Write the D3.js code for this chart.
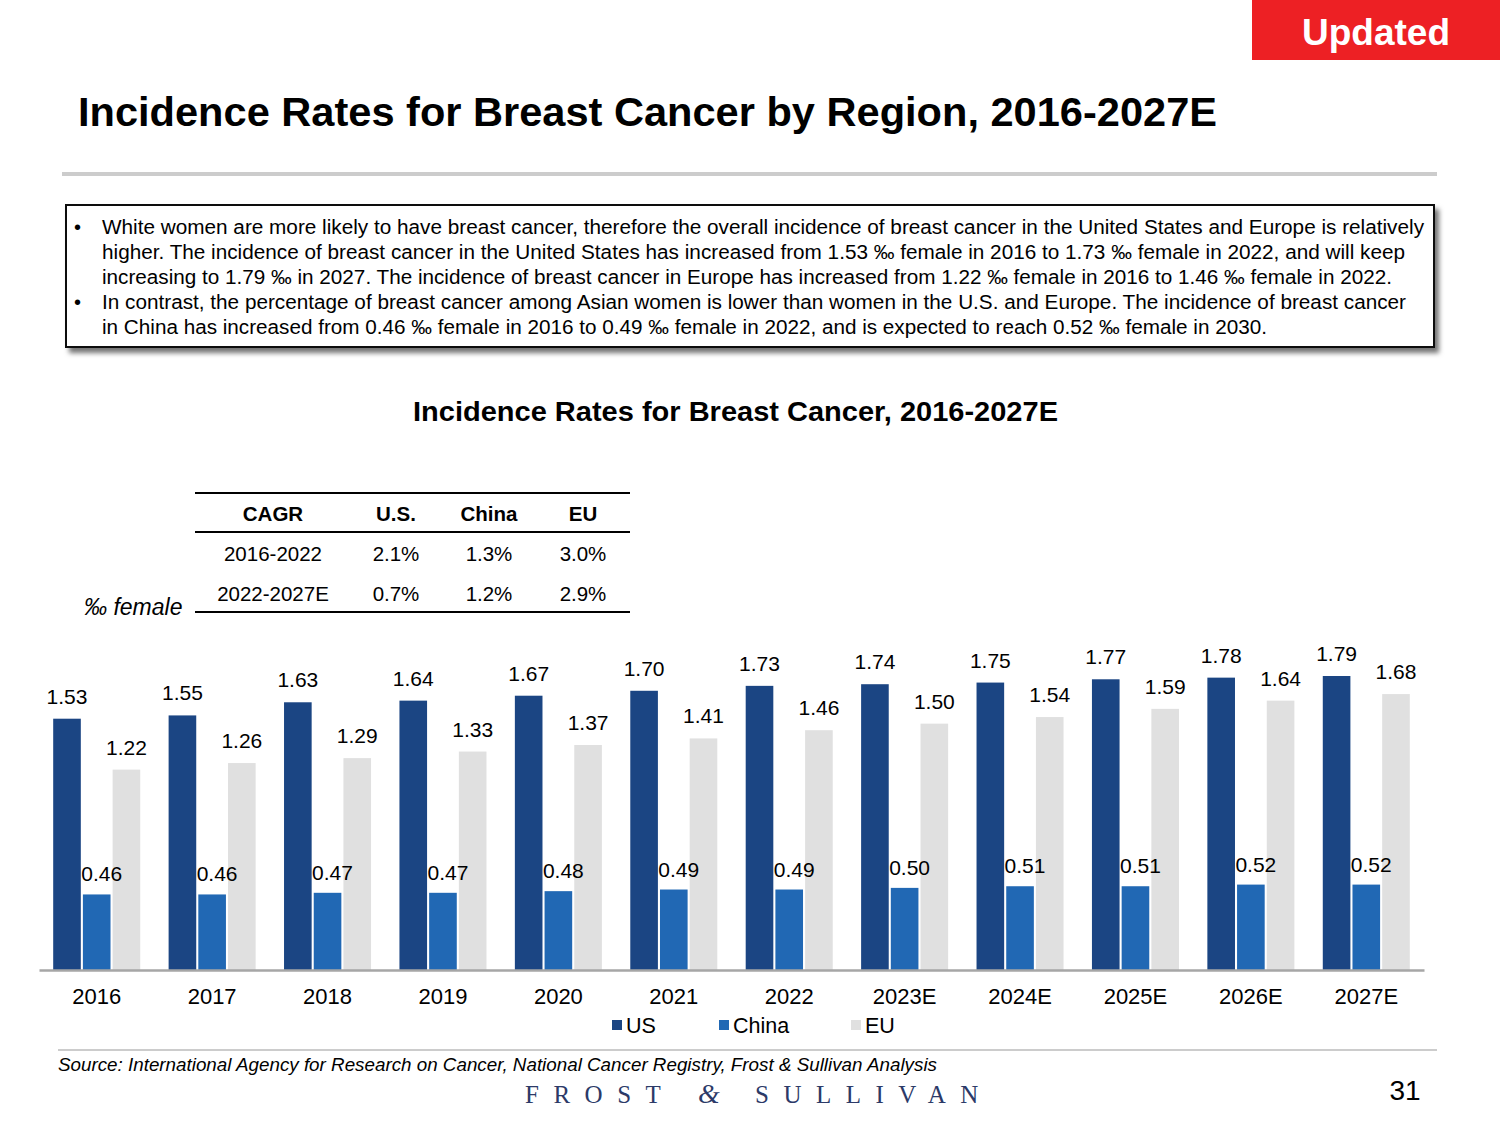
<!DOCTYPE html>
<html>
<head>
<meta charset="utf-8">
<script src="https://d3js.org/d3.v7.min.js"></script>
<style>
  body { margin: 0; background: #fff; }
  svg { display: block; font-family: "Liberation Sans", Arial, sans-serif; }
</style>
</head>
<body>
<div id="chart"></div>
<script>
// Values
var years = ["2016", "2017", "2018", "2019", "2020", "2021", "2022", "2023E", "2024E", "2025E", "2026E", "2027E"];
var seriesNames = ["US", "China", "EU"];
var usRates = [1.53, 1.55, 1.63, 1.64, 1.67, 1.70, 1.73, 1.74, 1.75, 1.77, 1.78, 1.79];
var chinaRates = [0.46, 0.46, 0.47, 0.47, 0.48, 0.49, 0.49, 0.50, 0.51, 0.51, 0.52, 0.52];
var euRates = [1.22, 1.26, 1.29, 1.33, 1.37, 1.41, 1.46, 1.50, 1.54, 1.59, 1.64, 1.68];

var cagrHeader = ["CAGR", "U.S.", "China", "EU"];
var cagrRows = [
    ["2016-2022", "2.1%", "1.3%", "3.0%"],
    ["2022-2027E", "0.7%", "1.2%", "2.9%"]
];

var bulletLines = [
    ["\u2022", "White women are more likely to have breast cancer, therefore the overall incidence of breast cancer in the United States and Europe is relatively"],
    ["", "higher. The incidence of breast cancer in the United States has increased from 1.53 \u2030 female in 2016 to 1.73 \u2030 female in 2022, and will keep"],
    ["", "increasing to 1.79 \u2030 in 2027. The incidence of breast cancer in Europe has increased from 1.22 \u2030 female in 2016 to 1.46 \u2030 female in 2022."],
    ["\u2022", "In contrast, the percentage of breast cancer among Asian women is lower than women in the U.S. and Europe. The incidence of breast cancer"],
    ["", "in China has increased from 0.46 \u2030 female in 2016 to 0.49 \u2030 female in 2022, and is expected to reach 0.52 \u2030 female in 2030."]
];
var bulletWidths = [1322, 1303, 1290, 1304, 1165];

var W = 1500, H = 1125;
var colors = { US: "#1b4583", China: "#2168b4", EU: "#e0e0e0" };

var svg = d3.select("#chart").append("svg").attr("width", W).attr("height", H);

var defs = svg.append("defs");
var shadow = defs.append("filter").attr("id", "boxShadow")
    .attr("x", "-5%").attr("y", "-20%").attr("width", "110%").attr("height", "150%");
shadow.append("feDropShadow").attr("dx", 4).attr("dy", 5).attr("stdDeviation", 2.5)
    .attr("flood-color", "#000").attr("flood-opacity", 0.55);

// "Updated" tag in the corner
svg.append("rect").attr("x", 1252).attr("y", 0).attr("width", 248).attr("height", 60).attr("fill", "#ed2024");
svg.append("text").attr("x", 1376).attr("y", 45).attr("text-anchor", "middle")
    .attr("font-size", 37).attr("font-weight", "bold").attr("fill", "#fff").text("Updated");

// Slide title + rule
svg.append("text").attr("x", 78).attr("y", 126)
    .attr("font-size", 41).attr("font-weight", "bold").attr("fill", "#000")
    .attr("textLength", 1139).attr("lengthAdjust", "spacingAndGlyphs")
    .text("Incidence Rates for Breast Cancer by Region, 2016-2027E");
svg.append("rect").attr("x", 62).attr("y", 172).attr("width", 1375).attr("height", 4).attr("fill", "#cccccc");

// Commentary box
svg.append("rect").attr("x", 66).attr("y", 205).attr("width", 1368).attr("height", 142)
    .attr("fill", "#fff").attr("stroke", "#111").attr("stroke-width", 2)
    .attr("filter", "url(#boxShadow)");
var bullets = svg.append("g").attr("font-size", 20).attr("fill", "#000");
bulletLines.forEach(function(l, i) {
    var yy = 234 + i * 25;
    if (l[0]) bullets.append("text").attr("x", 74).attr("y", yy).text(l[0]);
    bullets.append("text").attr("x", 102).attr("y", yy)
        .attr("textLength", bulletWidths[i]).attr("lengthAdjust", "spacingAndGlyphs")
        .text(l[1]);
});

// Chart title
svg.append("text").attr("x", 413).attr("y", 421)
    .attr("font-size", 27).attr("font-weight", "bold").attr("fill", "#000")
    .attr("textLength", 645).attr("lengthAdjust", "spacingAndGlyphs")
    .text("Incidence Rates for Breast Cancer, 2016-2027E");

// CAGR table
var colX = [273, 396, 489, 583];
var table = svg.append("g").attr("font-size", 20.5).attr("fill", "#000").attr("text-anchor", "middle");
[493, 532, 612].forEach(function(ly) {
    table.append("line").attr("x1", 195).attr("x2", 630).attr("y1", ly).attr("y2", ly)
        .attr("stroke", "#000").attr("stroke-width", 2);
});
table.selectAll(".hdr").data(cagrHeader).join("text").attr("class", "hdr")
    .attr("x", function(d, i) { return colX[i]; }).attr("y", 521)
    .attr("font-weight", "bold").text(function(d) { return d; });
cagrRows.forEach(function(row, r) {
    table.selectAll(".row" + r).data(row).join("text").attr("class", "row" + r)
        .attr("x", function(d, i) { return colX[i]; }).attr("y", 561 + r * 40)
        .text(function(d) { return d; });
});
svg.append("text").attr("x", 84).attr("y", 615).attr("font-size", 23).attr("font-style", "italic")
    .attr("fill", "#000").text("\u2030 female");

// Bars
var baseY = 970;
var x0 = d3.scaleBand().domain(years).range([39, 1424]).paddingInner(0.246).paddingOuter(0.123);
var x1 = d3.scaleBand().domain(seriesNames).range([0, x0.bandwidth()]).paddingInner(0.07);
var y = d3.scaleLinear().domain([0, 1.79]).range([baseY, 676]);

var rows = years.map(function(yr, i) {
    return { year: yr, values: [
        { key: "US", value: usRates[i] },
        { key: "China", value: chinaRates[i] },
        { key: "EU", value: euRates[i] }
    ] };
});

var groups = svg.append("g").selectAll(".grp").data(rows).join("g").attr("class", "grp")
    .attr("transform", function(d) { return "translate(" + x0(d.year) + ",0)"; });

groups.selectAll("rect").data(function(d) { return d.values; }).join("rect")
    .attr("x", function(d) { return x1(d.key); })
    .attr("y", function(d) { return y(d.value); })
    .attr("width", x1.bandwidth())
    .attr("height", function(d) { return baseY - y(d.value); })
    .attr("fill", function(d) { return colors[d.key]; });

// China labels sit a little right of their bar in the original
groups.selectAll("text").data(function(d) { return d.values; }).join("text")
    .attr("x", function(d) { return x1(d.key) + x1.bandwidth() / 2 + (d.key == "China" ? 5 : 0); })
    .attr("y", function(d) { return y(d.value) - (d.key == "China" ? 13 : 15); })
    .attr("text-anchor", "middle").attr("font-size", 21).attr("fill", "#000")
    .text(function(d) { return d.value.toFixed(2); });

// X axis
var xAxis = svg.append("g").attr("transform", "translate(0," + baseY + ")")
    .call(d3.axisBottom(x0).tickSize(0).tickPadding(18));
xAxis.select(".domain").attr("stroke", "#a6a6a6").attr("stroke-width", 2.5);
xAxis.selectAll("text").attr("font-size", 22).attr("fill", "#000")
    .attr("font-family", "\"Liberation Sans\", Arial, sans-serif");

// Legend
var legendX = [612, 719, 851];
var legend = svg.append("g").selectAll("g").data(seriesNames).join("g")
    .attr("transform", function(d, i) { return "translate(" + legendX[i] + ",1020)"; });
legend.append("rect").attr("width", 10).attr("height", 10).attr("y", 0)
    .attr("fill", function(d) { return colors[d]; });
legend.append("text").attr("x", 14).attr("y", 13).attr("font-size", 21.5).attr("fill", "#000")
    .text(function(d) { return d; });

// Footer
svg.append("rect").attr("x", 58).attr("y", 1049).attr("width", 1379).attr("height", 2).attr("fill", "#cccccc");
svg.append("text").attr("x", 58).attr("y", 1071).attr("font-size", 18).attr("font-style", "italic")
    .attr("fill", "#000").attr("textLength", 879).attr("lengthAdjust", "spacingAndGlyphs")
    .text("Source: International Agency for Research on Cancer, National Cancer Registry, Frost & Sullivan Analysis");

var brand = svg.append("g").attr("font-family", "\"Liberation Serif\", \"Times New Roman\", serif")
    .attr("font-size", 25).attr("fill", "#2c3a68");
brand.append("text").attr("x", 525).attr("y", 1103).attr("letter-spacing", 14.5).text("FROST");
brand.append("text").attr("x", 709).attr("y", 1103).attr("text-anchor", "middle").attr("font-style", "italic")
    .attr("font-size", 28).text("&");
brand.append("text").attr("x", 755).attr("y", 1103).attr("letter-spacing", 14.5).text("SULLIVAN");

svg.append("text").attr("x", 1405).attr("y", 1100).attr("text-anchor", "middle")
    .attr("font-size", 28).attr("fill", "#000").text("31");
</script>
</body>
</html>
